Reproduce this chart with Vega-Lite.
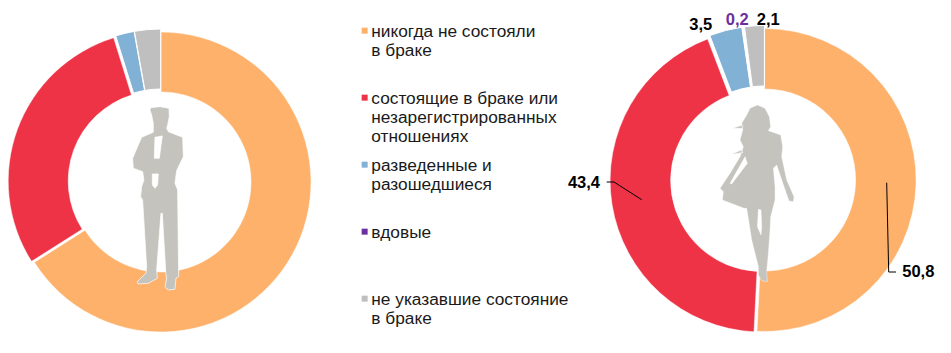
{
"$schema":"https://vega.github.io/schema/vega-lite/v6.json",
"width":951,"height":353,"padding":0,"autosize":{"type":"none"},"background":"white",
"config":{"view":{"stroke":null},"font":"Liberation Sans"},
"datasets":{
"slices":[
{"id":"m1","group":"мужчины","category":"никогда не состояли в браке","value":66,"start":0,"end":66},
{"id":"m2","group":"мужчины","category":"состоящие в браке или незарегистрированных отношениях","value":29.2,"start":66,"end":95.2},
{"id":"m3","group":"мужчины","category":"разведенные и разошедшиеся","value":2,"start":95.2,"end":97.2},
{"id":"m5","group":"мужчины","category":"не указавшие состояние в браке","value":2.8,"start":97.2,"end":100},
{"id":"w1","group":"женщины","category":"никогда не состояли в браке","value":50.8,"start":0,"end":50.8},
{"id":"w2","group":"женщины","category":"состоящие в браке или незарегистрированных отношениях","value":43.4,"start":50.8,"end":94.2},
{"id":"w3","group":"женщины","category":"разведенные и разошедшиеся","value":3.5,"start":94.2,"end":97.7},
{"id":"w4","group":"женщины","category":"вдовые","value":0.2,"start":97.7,"end":97.9},
{"id":"w5","group":"женщины","category":"не указавшие состояние в браке","value":2.1,"start":97.9,"end":100}
],
"people":[{"group":"мужчины"},{"group":"женщины"}],
"leaders":[
{"leader":"43,4","step":1,"x":606.7,"y":182},{"leader":"43,4","step":2,"x":614,"y":182},{"leader":"43,4","step":3,"x":641.7,"y":199.7},
{"leader":"50,8","step":1,"x":886.7,"y":182.7},{"leader":"50,8","step":2,"x":888.7,"y":272},{"leader":"50,8","step":3,"x":896,"y":272}
],
"labels":[
{"label":"3,5","x":700.7,"y":24.7},{"label":"0,2","x":737.3,"y":20},{"label":"2,1","x":768.3,"y":20},{"label":"43,4","x":584,"y":183},{"label":"50,8","x":918.3,"y":272}
]
},
"resolve":{"scale":{"x":"independent","y":"independent"}},
"layer":[
{"data":{"name":"slices"},
 "encoding":{
  "x":{"field":"group","type":"nominal","axis":null,"scale":{"type":"point","padding":0,"domain":["мужчины","женщины"],"range":[161,764.6]}},
  "y":{"field":"group","type":"nominal","axis":null,"scale":{"type":"point","padding":0,"domain":["мужчины","женщины"],"range":[182,180]}},
  "theta":{"field":"start","type":"quantitative","stack":null,"scale":{"domain":[0,100]}},
  "theta2":{"field":"end"},
  "color":{"field":"category","type":"nominal",
   "scale":{"domain":["никогда не состояли в браке","состоящие в браке или незарегистрированных отношениях","разведенные и разошедшиеся","вдовые","не указавшие состояние в браке"],"range":["#FDB16B","#EE3347","#82B1D6","#6B2FA0","#BFBFBF"]},
   "legend":{"title":null,"orient":"none","legendX":356,"legendY":14,"symbolType":"M-1,1.67H1V3.67H-1Z","symbolSize":36,"symbolStrokeWidth":0,"labelFont":"Liberation Sans","labelFontSize":17.3,"labelColor":"#1a1a1a","labelLimit":0,"labelOffset":-2,"labelBaseline":"top","rowPadding":2,"gridAlign":"all",
    "labelExpr":"datum.label=='никогда не состояли в браке'?['никогда не состояли','в браке']:datum.label=='состоящие в браке или незарегистрированных отношениях'?['состоящие в браке или','незарегистрированных','отношениях']:datum.label=='разведенные и разошедшиеся'?['разведенные и','разошедшиеся']:datum.label=='не указавшие состояние в браке'?['не указавшие состояние','в браке']:datum.label",
    "encoding":{"labels":{"update":{"lineHeight":{"value":20}}}}}
  }
 },
 "layer":[
  {"transform":[{"filter":{"field":"id","equal":"m1"}}],"mark":{"type":"arc","outerRadius":150,"innerRadius":90,"stroke":"white","strokeWidth":0.5}},
  {"transform":[{"filter":{"field":"id","equal":"m2"}}],"mark":{"type":"arc","outerRadius":150,"innerRadius":90,"stroke":"white","strokeWidth":0.5,"xOffset":-2.8,"yOffset":-1}},
  {"transform":[{"filter":{"field":"id","equal":"m3"}}],"mark":{"type":"arc","outerRadius":150,"innerRadius":90,"stroke":"white","strokeWidth":1,"xOffset":-0.7,"yOffset":-2.9}},
  {"transform":[{"filter":{"field":"id","equal":"m5"}}],"mark":{"type":"arc","outerRadius":150,"innerRadius":90,"stroke":"white","strokeWidth":1,"xOffset":-0.3,"yOffset":-3}},
  {"transform":[{"filter":{"field":"id","equal":"w1"}}],"mark":{"type":"arc","outerRadius":151.5,"innerRadius":91,"stroke":"white","strokeWidth":0.5}},
  {"transform":[{"filter":{"field":"id","equal":"w2"}}],"mark":{"type":"arc","outerRadius":151.5,"innerRadius":91,"stroke":"white","strokeWidth":0.5,"xOffset":-3,"yOffset":0.5}},
  {"transform":[{"filter":{"field":"id","equal":"w3"}}],"mark":{"type":"arc","outerRadius":151.5,"innerRadius":91,"stroke":"white","strokeWidth":1,"xOffset":-0.75,"yOffset":-2.9}},
  {"transform":[{"filter":{"field":"id","equal":"w4"}}],"mark":{"type":"arc","outerRadius":151.5,"innerRadius":91,"stroke":"white","strokeWidth":2.2,"xOffset":-0.4,"yOffset":-3}},
  {"transform":[{"filter":{"field":"id","equal":"w5"}}],"mark":{"type":"arc","outerRadius":151.5,"innerRadius":91,"stroke":"white","strokeWidth":1,"xOffset":-0.2,"yOffset":-3}}
 ]
},
{"data":{"name":"people"},"transform":[{"filter":{"field":"group","equal":"мужчины"}}],
 "mark":{"type":"point","filled":true,"opacity":1,"fill":"#C4C3BD","stroke":"white","strokeWidth":0.7,"size":0.4444,"xOffset":-2.7,"yOffset":16.3,
  "shape":"M-23,-272L5,-275L32,-270L33,-245L28,-220L25,-210L30,-200L73,-183L75,-125L55,-83L50,-45L58,-25L61,235L53,240L50,273L30,275L20,267L25,240L23,230L12,45L8,45L-5,215L-3,240L-30,255L-60,257L-63,250L-37,225L-35,205L-47,5L-53,-5L-50,-35L-43,-55L-47,-80L-75,-90L-77,-120L-50,-183L-15,-198L-15,-225L-20,-250L-25,-265ZM-10,-183L-12,-120L3,-120L12,-187ZM-18,-73L-18,-40L-10,-30L-2,-40L0,-73Z"},
 "encoding":{
  "x":{"field":"group","type":"nominal","axis":null,"scale":{"type":"point","padding":0,"domain":["мужчины","женщины"],"range":[161,764.6]}},
  "y":{"field":"group","type":"nominal","axis":null,"scale":{"type":"point","padding":0,"domain":["мужчины","женщины"],"range":[182,180]}}
 }
},
{"data":{"name":"people"},"transform":[{"filter":{"field":"group","equal":"женщины"}}],
 "mark":{"type":"point","filled":true,"opacity":1,"fill":"#C4C3BD","stroke":"white","strokeWidth":0.4,"size":0.4444,"xOffset":-7.9,"yOffset":13.3,
  "shape":"M2,-265L25,-255L38,-230L42,-200L35,-188L72,-175L78,-140L75,-110L90,-40L112,10L110,25L97,23L82,-20L60,-85L50,-75L55,-20L55,20L42,70L40,110L35,180L30,235L32,265L15,262L5,245L5,220L-15,140L-30,45L-38,45L-103,20L-100,-5L-110,-15L-80,-60L-50,-110L-40,-140L-50,-160L-42,-190L-45,-210L-30,-235L-20,-255ZM-35,-110L-80,-30L-75,-28L-28,-90ZM5,48L2,100L13,125L15,100L13,50ZM-42,-195L-72,-195L-42,-205ZM-45,-130L-75,-118L-42,-122Z"},
 "encoding":{
  "x":{"field":"group","type":"nominal","axis":null,"scale":{"type":"point","padding":0,"domain":["мужчины","женщины"],"range":[161,764.6]}},
  "y":{"field":"group","type":"nominal","axis":null,"scale":{"type":"point","padding":0,"domain":["мужчины","женщины"],"range":[182,180]}}
 }
},
{"data":{"name":"leaders"},
 "mark":{"type":"line","color":"black","strokeWidth":1,"interpolate":"linear"},
 "encoding":{
  "x":{"field":"x","type":"quantitative","axis":null,"scale":{"domain":[0,951],"range":[0,951]}},
  "y":{"field":"y","type":"quantitative","axis":null,"scale":{"domain":[0,353],"range":[0,353]}},
  "detail":{"field":"leader"},
  "order":{"field":"step"}
 }
},
{"data":{"name":"labels"},
 "mark":{"type":"text","font":"Liberation Sans","fontWeight":"bold","fontSize":16.5,"align":"center","baseline":"middle"},
 "encoding":{
  "x":{"field":"x","type":"quantitative","axis":null,"scale":{"domain":[0,951],"range":[0,951]}},
  "y":{"field":"y","type":"quantitative","axis":null,"scale":{"domain":[0,353],"range":[0,353]}},
  "text":{"field":"label"},
  "color":{"condition":{"test":"datum.label==='0,2'","value":"#6B2FA0"},"value":"black"}
 }
}
]
}
